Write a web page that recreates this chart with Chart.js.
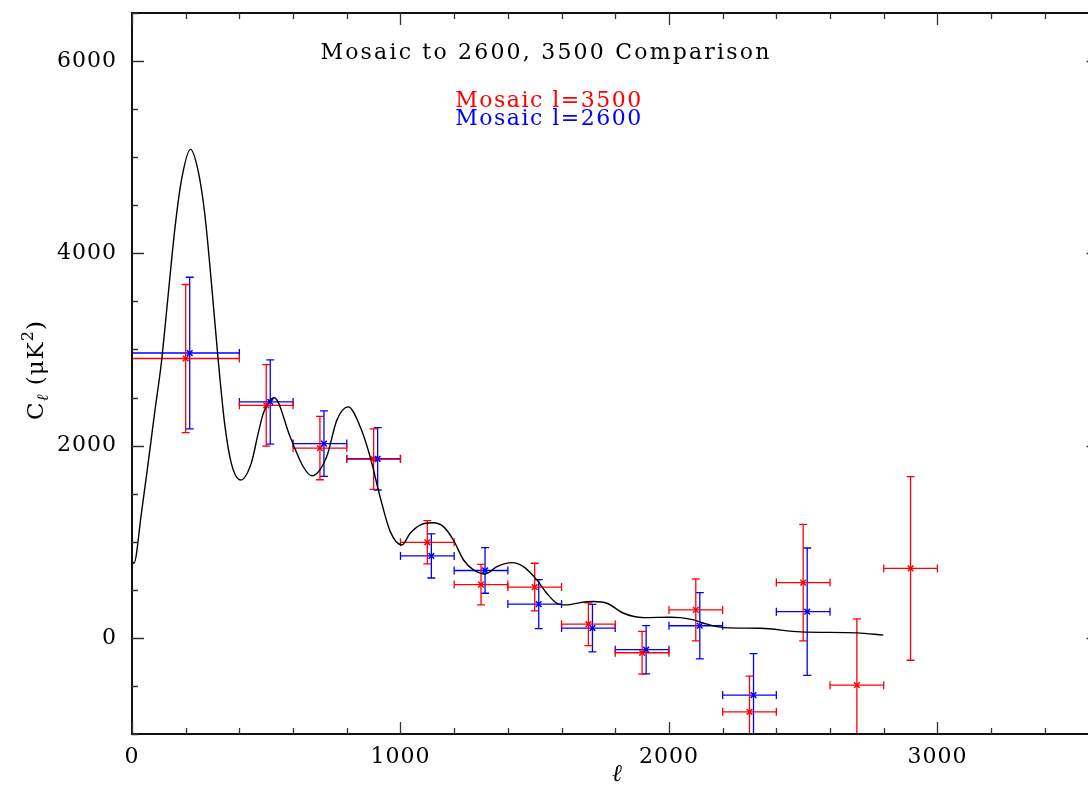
<!DOCTYPE html>
<html>
<head>
<meta charset="utf-8">
<title>Mosaic to 2600, 3500 Comparison</title>
<script src="https://cdn.jsdelivr.net/npm/chart.js@4/dist/chart.umd.min.js"></script>
<style>
  html, body { margin: 0; padding: 0; background: #fff; overflow: hidden; }
  #wrap { width: 1104px; height: 790px; }
</style>
</head>
<body>
<div id="wrap"><canvas id="chart-cl" width="1104" height="790"></canvas></div>
<script>
/* ── band power bins (l ranges) ── */
var binLo = [0, 400, 600, 800, 1000, 1200, 1400, 1600, 1800, 2000, 2200, 2400, 2600, 2800];
var binHi = [400, 600, 800, 1000, 1200, 1400, 1600, 1800, 2000, 2200, 2400, 2600, 2800, 3000];

/* ── Mosaic l=3500 ── */
var lRed = [200, 500, 700, 900, 1100, 1300, 1500, 1700, 1900, 2100, 2300, 2500, 2700, 2900];
var cRed = [2906, 2419, 1974, 1860, 994, 554, 528, 142, -155, 291, -769, 575, -492, 722];
var eRed = [770, 424, 329, 315, 225, 211, 248, 222, 222, 322, 371, 606, 689, 955];

/* ── Mosaic l=2600 ── */
var lBlue = [215, 515, 715, 915, 1115, 1315, 1515, 1715, 1915, 2115, 2315, 2515];
var cBlue = [2963, 2454, 2021, 1863, 852, 701, 351, 102, -123, 126, -595, 272];
var eBlue = [788, 438, 341, 325, 229, 237, 254, 247, 251, 345, 432, 663];

/* ── model spectrum ── */
var modelL = [2, 7, 35, 60, 84, 109, 134, 159, 184, 218, 246, 271, 295, 320, 345, 370, 405, 444, 470, 489,
  530, 589, 638, 670, 725, 763, 806, 850, 887, 924, 962, 1005, 1036, 1073, 1121, 1160, 1197, 1235, 1272,
  1316, 1359, 1415, 1458, 1508, 1545, 1583, 1620, 1670, 1719, 1769, 1831, 1906, 2005, 2042, 2092, 2130,
  2204, 2341, 2490, 2701, 2798];
var modelC = [790, 776, 1295, 1815, 2335, 2854, 3546, 4239, 4758, 5081, 4862, 4412, 3719, 2923, 2231, 1815, 1642, 1815, 2127, 2335,
  2497, 2092, 1780, 1686, 1884, 2265, 2403, 2196, 1884, 1468, 1105, 966, 1088, 1174, 1198, 1157, 1018, 810, 707,
  665, 741, 783, 741, 603, 464, 360, 343, 367, 378, 360, 256, 211, 215, 211, 187, 152,
  107, 100, 62, 52, 28];

var xMajor = 1000, xMinor = 200, yMajor = 2000, yMinor = 500;
var serif = '"DejaVu Serif", "Liberation Serif", serif';

function toPoints(xs, ys) {
  return xs.map(function (x, i) { return { x: x, y: ys[i] }; });
}

// wider glyph spacing for every text drawn on the canvas
var spacing = {
  id: 'spacing',
  beforeDraw: function (chart) { chart.ctx.letterSpacing = '1px'; }
};

// error bars: vertical +/- err, horizontal across the bin
var errorBars = {
  id: 'errorBars',
  beforeDatasetsDraw: function (chart) {
    var ctx = chart.ctx, xs = chart.scales.x, ys = chart.scales.y, a = chart.chartArea;
    ctx.save();
    ctx.beginPath();
    ctx.rect(a.left, a.top, a.right - a.left, a.bottom - a.top);
    ctx.clip();
    chart.data.datasets.forEach(function (ds) {
      if (!ds.errY) return;
      ctx.strokeStyle = ds.borderColor;
      ctx.lineWidth = 1.3;
      ds.data.forEach(function (p, j) {
        var x = xs.getPixelForValue(p.x), y = ys.getPixelForValue(p.y);
        var x0 = xs.getPixelForValue(ds.binLo[j]), x1 = xs.getPixelForValue(ds.binHi[j]);
        var yt = ys.getPixelForValue(p.y + ds.errY[j]), yb = ys.getPixelForValue(p.y - ds.errY[j]);
        ctx.beginPath();
        ctx.moveTo(x0, y); ctx.lineTo(x1, y);
        ctx.moveTo(x0, y - 4); ctx.lineTo(x0, y + 4);
        ctx.moveTo(x1, y - 4); ctx.lineTo(x1, y + 4);
        ctx.moveTo(x, yt); ctx.lineTo(x, yb);
        ctx.moveTo(x - 4, yt); ctx.lineTo(x + 4, yt);
        ctx.moveTo(x - 4, yb); ctx.lineTo(x + 4, yb);
        ctx.stroke();
      });
    });
    ctx.restore();
  }
};

// box frame with inward ticks on all four sides, plus texts
var frame = {
  id: 'frame',
  afterDraw: function (chart) {
    var ctx = chart.ctx, xs = chart.scales.x, ys = chart.scales.y, a = chart.chartArea;
    ctx.save();
    ctx.strokeStyle = '#111';
    ctx.lineWidth = 2;
    ctx.strokeRect(a.left, a.top, a.right - a.left, a.bottom - a.top);

    ctx.strokeStyle = '#333';
    ctx.lineWidth = 1.3;
    ctx.beginPath();
    for (var v = xs.min; v <= xs.max; v += xMinor) {
      var px = Math.round(xs.getPixelForValue(v)) + 0.5;
      var len = v % xMajor === 0 ? 12 : 6;
      ctx.moveTo(px, a.bottom); ctx.lineTo(px, a.bottom - len);
      ctx.moveTo(px, a.top); ctx.lineTo(px, a.top + len);
    }
    for (var w = ys.min; w <= ys.max; w += yMinor) {
      var py = Math.round(ys.getPixelForValue(w)) + 0.5;
      var ln = w % yMajor === 0 ? 12 : 6;
      ctx.moveTo(a.left, py); ctx.lineTo(a.left + ln, py);
      ctx.moveTo(a.right, py); ctx.lineTo(a.right - ln, py);
    }
    ctx.stroke();

    // title and legend
    ctx.textAlign = 'center';
    ctx.textBaseline = 'middle';
    ctx.fillStyle = '#000';
    ctx.font = '22px ' + serif;
    ctx.letterSpacing = '2.2px';
    ctx.fillText('Mosaic to 2600, 3500 Comparison', 546, 53);
    ctx.letterSpacing = '1.5px';
    ctx.fillStyle = '#ff0000';
    ctx.fillText('Mosaic l=3500', 549, 101);
    ctx.fillStyle = '#0000ff';
    ctx.fillText('Mosaic l=2600', 549, 119);
    ctx.letterSpacing = '0px';

    // x axis title
    ctx.fillStyle = '#000';
    ctx.font = 'italic 24px ' + serif;
    ctx.fillText('\u2113', 617, 775);

    // y axis title: C_l (uK^2)
    ctx.translate(37, 370);
    ctx.rotate(-Math.PI / 2);
    ctx.textAlign = 'left';
    ctx.letterSpacing = '1px';
    var big = '23px ' + serif, small = '16px ' + serif;
    var parts = [
      { t: 'C', f: big, dy: 0 },
      { t: '\u2113', f: 'italic ' + small, dy: 7 },
      { t: ' (\u03bcK', f: big, dy: 0 },
      { t: '2', f: small, dy: -8 },
      { t: ')', f: big, dy: 0 }
    ];
    var total = 0;
    parts.forEach(function (p) { ctx.font = p.f; total += ctx.measureText(p.t).width; });
    var cx = -total / 2;
    parts.forEach(function (p) {
      ctx.font = p.f;
      ctx.fillText(p.t, cx, p.dy);
      cx += ctx.measureText(p.t).width;
    });
    ctx.restore();
  }
};

new Chart(document.getElementById('chart-cl'), {
  type: 'scatter',
  data: {
    datasets: [
      {
        label: 'Mosaic l=2600',
        data: toPoints(lBlue, cBlue),
        errY: eBlue,
        binLo: binLo.slice(0, lBlue.length),
        binHi: binHi.slice(0, lBlue.length),
        borderColor: '#0000ff',
        backgroundColor: '#0000ff',
        pointStyle: 'crossRot',
        pointRadius: 4,
        borderWidth: 1.5
      },
      {
        label: 'Mosaic l=3500',
        data: toPoints(lRed, cRed),
        errY: eRed,
        binLo: binLo,
        binHi: binHi,
        borderColor: '#ff0000',
        backgroundColor: '#ff0000',
        pointStyle: 'crossRot',
        pointRadius: 4,
        borderWidth: 1.5
      },
      {
        type: 'line',
        label: 'model',
        data: toPoints(modelL, modelC),
        borderColor: '#000',
        borderWidth: 1.4,
        pointRadius: 0,
        fill: false,
        cubicInterpolationMode: 'monotone'
      }
    ]
  },
  options: {
    responsive: false,
    animation: false,
    devicePixelRatio: 1,
    layout: { padding: { top: 13, right: 2, left: 0, bottom: 0 } },
    plugins: { legend: { display: false }, tooltip: { enabled: false } },
    scales: {
      x: {
        type: 'linear', min: 0, max: 3600,
        grid: { display: false, drawTicks: false }, border: { display: false },
        ticks: {
          stepSize: xMinor, autoSkip: false, maxRotation: 0, padding: 10,
          color: '#000', font: { family: serif, size: 22 },
          callback: function (v) { return v % xMajor === 0 ? String(v) : ''; }
        },
        afterFit: function (s) {
          s.height = 56;
          s.paddingLeft = 0; s.paddingRight = 0;
        }
      },
      y: {
        type: 'linear', min: -1000, max: 6500,
        grid: { display: false, drawTicks: false }, border: { display: false },
        ticks: {
          stepSize: yMinor, autoSkip: false, padding: 15,
          color: '#000', font: { family: serif, size: 22 },
          callback: function (v) { return v % yMajor === 0 ? String(v) : ''; }
        },
        afterFit: function (s) {
          s.width = 132;
          s.paddingTop = 0; s.paddingBottom = 0;
        }
      }
    }
  },
  plugins: [spacing, errorBars, frame]
});
</script>
</body>
</html>
